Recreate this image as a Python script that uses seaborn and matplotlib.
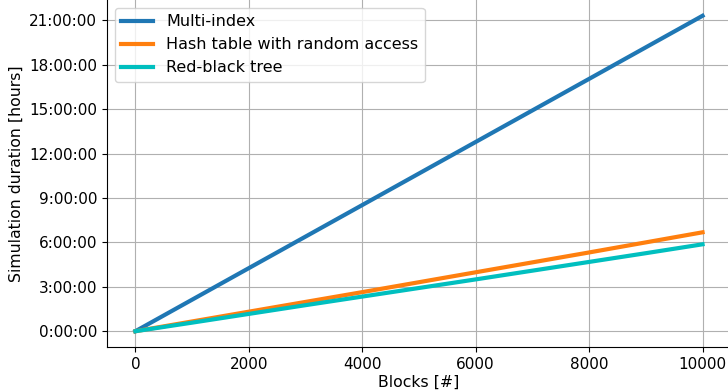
import matplotlib
matplotlib.use("Agg")
import matplotlib.pyplot as plt
from matplotlib.ticker import FuncFormatter, MultipleLocator
import seaborn as sns
import pandas as pd

blocks = [0, 1000, 2000, 3000, 4000, 5000, 6000, 7000, 8000, 9000, 10000]
multi_index_h = [0.0, 2.13, 4.26, 6.39, 8.52, 10.65, 12.78, 14.91, 17.04, 19.17, 21.3]
hash_table_h = [0.0, 0.66, 1.32, 1.98, 2.64, 3.31, 3.98, 4.65, 5.32, 6.0, 6.68]
rb_tree_h = [0.0, 0.58, 1.17, 1.76, 2.34, 2.92, 3.5, 4.09, 4.68, 5.27, 5.87]
series_names = ["Multi-index", "Hash table with random access", "Red-black tree"]
colors = ["#1f77b4", "#ff7f0e", "#00bfbf"]

df = pd.DataFrame({
    "Blocks": blocks * 3,
    "Hours": multi_index_h + hash_table_h + rb_tree_h,
    "Structure": [series_names[0]] * len(blocks) + [series_names[1]] * len(blocks) + [series_names[2]] * len(blocks),
})

plt.rcParams['font.family'] = ['DejaVu Sans']
fig = plt.figure(figsize=(7.28, 3.91), dpi=100)
ax = fig.add_axes([0.147, 0.1125, 0.857, 0.8875])

sns.lineplot(data=df, x="Blocks", y="Hours", hue="Structure", palette=colors,
             hue_order=series_names, linewidth=3, ax=ax)

def fmt(v, pos):
    total = int(round(v * 3600))
    sign = "-" if total < 0 else ""
    total = abs(total)
    h, rem = divmod(total, 3600)
    m, s = divmod(rem, 60)
    return f"{sign}{h}:{m:02d}:{s:02d}"

ax.yaxis.set_major_locator(MultipleLocator(3))
ax.yaxis.set_major_formatter(FuncFormatter(fmt))
ax.set_xticks([0, 2000, 4000, 6000, 8000, 10000])
ax.grid(True, color="#b0b0b0", linewidth=0.8)
ax.set_xlabel("Blocks [#]", fontsize=11.3, labelpad=2)
ax.set_ylabel("Simulation duration [hours]", fontsize=11.3)
ax.tick_params(labelsize=11)
ax.spines["top"].set_visible(False)
ax.spines["right"].set_visible(False)
leg = ax.legend(loc="upper left", fontsize=11.5, handlelength=2.0)
for line in leg.get_lines():
    line.set_linewidth(3)

fig.savefig("out.png", dpi=100)
